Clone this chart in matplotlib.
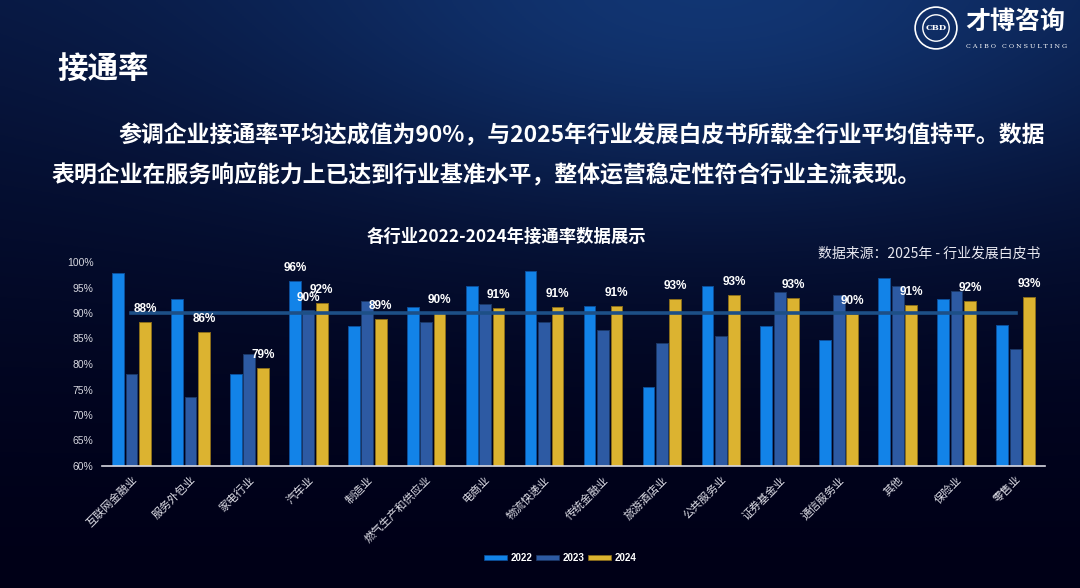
import numpy as np
import matplotlib
matplotlib.use("Agg")
import matplotlib.pyplot as plt
from matplotlib.patches import Circle, Patch

# data
industries = ["互联网金融业", "服务外包业", "家电行业", "汽车业", "制造业", "燃气生产和供应业",
              "电商业", "物流快递业", "传统金融业", "旅游酒店业", "公共服务业", "证券基金业",
              "通信服务业", "其他", "保险业", "零售业"]
rate_2022 = [97.8, 92.7, 78.1, 96.3, 87.5, 91.1, 95.3, 98.2, 91.4, 75.4, 95.3, 87.5, 84.8, 96.8, 92.7, 87.6]
rate_2023 = [78.1, 73.5, 82.0, 90.5, 92.4, 88.3, 91.8, 88.3, 86.7, 84.2, 85.5, 94.1, 93.5, 95.3, 94.4, 82.9]
rate_2024 = [88.3, 86.3, 79.2, 92.0, 88.8, 90.1, 90.9, 91.1, 91.4, 92.7, 93.5, 92.9, 89.9, 91.6, 92.4, 93.1]
labels_2024 = ["88%", "86%", "79%", "92%", "89%", "90%", "91%", "91%", "91%", "93%",
               "93%", "93%", "90%", "91%", "92%", "93%"]
extra_labels = {(3, 0): "96%", (3, 1): "90%"}  # 汽车业 also labels 2022/2023
avg_rate = 90
years = ["2022", "2023", "2024"]
colors = ["#1283e8", "#2d5aa3", "#dcb330"]
edges = ["#0d4f9a", "#1b3868", "#8a6d1a"]

CJK = ["Noto Sans CJK SC", "DejaVu Sans"]
LAT = ["Liberation Sans", "DejaVu Sans"]

fig = plt.figure(figsize=(10.8, 5.88), dpi=100)

# background: dark navy gradient with a lighter glow at the top
bg = fig.add_axes([0, 0, 1, 1], zorder=-10)
bg.axis("off")
h, w = 300, 540
yy, xx = np.mgrid[0:h, 0:w]
t = yy / h
top = np.array([0.03, 0.09, 0.25])
bot = np.array([0.0, 0.0, 0.09])
k = (1 - t[..., None]) ** 1.4
img = top[None, None, :] * k + bot[None, None, :] * (1 - k)
glow = np.exp(-(((xx - 355) / 230.0) ** 2 + ((yy - 10) / 100.0) ** 2))
img = img + glow[..., None] * np.array([0.04, 0.12, 0.20])[None, None, :]
img = np.clip(img, 0, 1)
bg.imshow(img, extent=[0, 1, 0, 1], aspect="auto", origin="upper")
bg.set_xlim(0, 1)
bg.set_ylim(0, 1)

# slide texts
fig.text(57 / 1080, 1 - 70 / 588, "接通率", family=CJK, fontsize=22, fontweight="bold",
         color="white", va="center", ha="left")
fig.text(118 / 1080, 1 - 136 / 588, "参调企业接通率平均达成值为90%，与2025年行业发展白皮书所载全行业平均值持平。数据",
         family=CJK, fontsize=16.5, fontweight="bold", color="white", va="center", ha="left")
fig.text(52 / 1080, 1 - 176 / 588, "表明企业在服务响应能力上已达到行业基准水平，整体运营稳定性符合行业主流表现。",
         family=CJK, fontsize=16.5, fontweight="bold", color="white", va="center", ha="left")
fig.text(506 / 1080, 1 - 237 / 588, "各行业2022-2024年接通率数据展示", family=CJK, fontsize=12.5,
         fontweight="bold", color="white", va="center", ha="center")
fig.text(1040 / 1080, 1 - 254 / 588, "数据来源：2025年 - 行业发展白皮书", family=CJK, fontsize=10,
         color="#e8e8f0", va="center", ha="right")

# logo
logo = fig.add_axes([914 / 1080, 1 - 50 / 588, 44 / 1080, 44 / 588])
logo.set_xlim(-1, 1)
logo.set_ylim(-1, 1)
logo.set_aspect("equal")
logo.axis("off")
logo.add_patch(Circle((0, 0), 0.95, fill=False, ec="white", lw=1.2))
logo.add_patch(Circle((0, 0), 0.6, fill=False, ec="white", lw=1.0))
logo.text(0, 0, "CBD", color="white", fontsize=6, fontweight="bold", ha="center", va="center",
          family="DejaVu Serif")
fig.text(965 / 1080, 1 - 22 / 588, "才博咨询", family=CJK, fontsize=18, fontweight="bold",
         color="white", va="center", ha="left")
fig.text(966 / 1080, 1 - 46 / 588, "C A I B O   C O N S U L T I N G", family="DejaVu Serif",
         fontsize=4.6, color="white", va="center", ha="left")

# chart
ax = fig.add_axes([102 / 1080, 1 - 466 / 588, 943 / 1080, 204 / 588])
ax.patch.set_alpha(0)
x = np.arange(len(industries))
width = 0.2
offset = 0.228
series = [rate_2022, rate_2023, rate_2024]
for i, vals in enumerate(series):
    ax.bar(x + (i - 1) * offset, np.array(vals) - 60, width=width, bottom=60,
           color=colors[i], edgecolor=edges[i], linewidth=0.7, label=years[i], zorder=2)

ax.plot(x, [avg_rate] * len(x), color="#1d4f86", linewidth=2.6, zorder=3)

for j, lab in enumerate(labels_2024):
    ax.annotate(lab, (x[j] + offset, rate_2024[j]), xytext=(0, 5), textcoords="offset points",
                ha="center", va="bottom", color="white", fontsize=8.5, fontweight="bold",
                family=LAT, zorder=4)
for (j, s), lab in extra_labels.items():
    ax.annotate(lab, (x[j] + (s - 1) * offset, series[s][j]), xytext=(0, 5), textcoords="offset points",
                ha="center", va="bottom", color="white", fontsize=8.5, fontweight="bold",
                family=LAT, zorder=4)

ax.set_xlim(-0.5, len(industries) - 0.5)
ax.set_ylim(60, 100)
ax.set_yticks(np.arange(60, 101, 5))
ax.set_yticklabels([f"{v}%" for v in range(60, 101, 5)], family=LAT, fontsize=7.5, color="#d8d8e0")
ax.set_xticks(x)
ax.set_xticklabels(industries, rotation=45, ha="right", rotation_mode="anchor", family=CJK,
                   fontsize=8, color="#e0e0e8", fontweight="medium")
ax.tick_params(axis="both", length=0)
ax.tick_params(axis="y", pad=6)
ax.tick_params(axis="x", pad=6)
for side in ["top", "right", "left"]:
    ax.spines[side].set_visible(False)
ax.spines["bottom"].set_color("#d8d8e0")
ax.spines["bottom"].set_linewidth(1.2)

handles = [Patch(facecolor=colors[i], edgecolor=edges[i], linewidth=0.5) for i in range(3)]
leg = fig.legend(handles, years, loc="center", bbox_to_anchor=(560 / 1080, 1 - 558 / 588), ncol=3,
                 frameon=False, handlelength=2.4, handleheight=0.55, handletextpad=0.3,
                 columnspacing=0.4, prop={"family": LAT, "size": 7, "weight": "bold"})
for txt in leg.get_texts():
    txt.set_color("white")

fig.savefig("out.png", dpi=100)
